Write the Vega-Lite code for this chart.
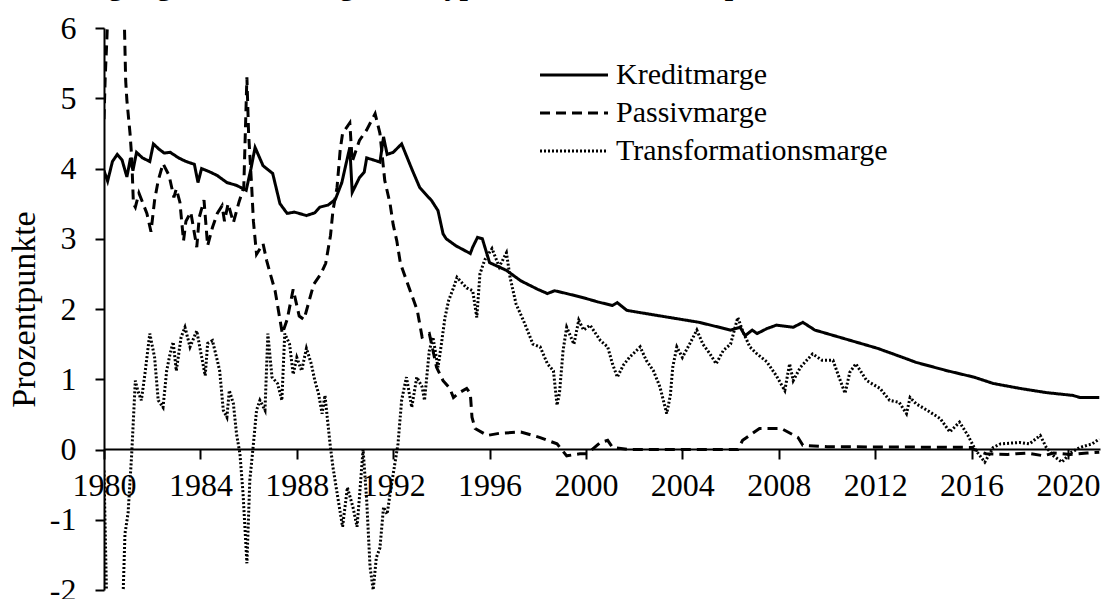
{
  "$schema": "https://vega.github.io/schema/vega-lite/v6.json",
  "width": 996,
  "height": 562,
  "autosize": {"type": "none"},
  "padding": {"left": 104, "top": 28, "right": 4, "bottom": 9},
  "background": "white",
  "title": {
    "text": "Zerlegung der Zinsmarge bei Hypotheken, in Prozentpunkten",
    "anchor": "start",
    "frame": "group",
    "offset": 11,
    "dx": -64,
    "font": "Liberation Serif",
    "fontSize": 30,
    "fontWeight": "bold",
    "color": "black"
  },
  "config": {
    "view": {"stroke": null},
    "axis": {
      "labelFont": "Liberation Serif",
      "titleFont": "Liberation Serif",
      "labelColor": "black",
      "titleColor": "black",
      "domainColor": "black",
      "tickColor": "black",
      "grid": false
    },
    "legend": {
      "labelFont": "Liberation Serif",
      "labelColor": "black"
    }
  },
  "data": {
    "values": [
      {"s": "Kreditmarge", "t": 1980.0, "v": 3.97},
      {"s": "Kreditmarge", "t": 1980.15, "v": 3.82},
      {"s": "Kreditmarge", "t": 1980.35, "v": 4.1},
      {"s": "Kreditmarge", "t": 1980.55, "v": 4.2},
      {"s": "Kreditmarge", "t": 1980.75, "v": 4.12},
      {"s": "Kreditmarge", "t": 1980.95, "v": 3.88},
      {"s": "Kreditmarge", "t": 1981.1, "v": 4.15},
      {"s": "Kreditmarge", "t": 1981.2, "v": 3.97},
      {"s": "Kreditmarge", "t": 1981.35, "v": 4.23},
      {"s": "Kreditmarge", "t": 1981.6, "v": 4.15},
      {"s": "Kreditmarge", "t": 1981.9, "v": 4.1},
      {"s": "Kreditmarge", "t": 1982.05, "v": 4.35},
      {"s": "Kreditmarge", "t": 1982.3, "v": 4.27},
      {"s": "Kreditmarge", "t": 1982.5, "v": 4.22},
      {"s": "Kreditmarge", "t": 1982.75, "v": 4.23},
      {"s": "Kreditmarge", "t": 1983.1, "v": 4.15},
      {"s": "Kreditmarge", "t": 1983.4, "v": 4.1},
      {"s": "Kreditmarge", "t": 1983.75, "v": 4.06},
      {"s": "Kreditmarge", "t": 1983.9, "v": 3.8},
      {"s": "Kreditmarge", "t": 1984.05, "v": 4.0},
      {"s": "Kreditmarge", "t": 1984.4, "v": 3.95},
      {"s": "Kreditmarge", "t": 1984.7, "v": 3.9},
      {"s": "Kreditmarge", "t": 1985.1, "v": 3.8},
      {"s": "Kreditmarge", "t": 1985.5, "v": 3.76},
      {"s": "Kreditmarge", "t": 1985.9, "v": 3.69},
      {"s": "Kreditmarge", "t": 1986.1, "v": 4.0},
      {"s": "Kreditmarge", "t": 1986.27, "v": 4.3},
      {"s": "Kreditmarge", "t": 1986.6, "v": 4.04},
      {"s": "Kreditmarge", "t": 1987.0, "v": 3.93},
      {"s": "Kreditmarge", "t": 1987.3, "v": 3.5},
      {"s": "Kreditmarge", "t": 1987.6, "v": 3.36},
      {"s": "Kreditmarge", "t": 1987.9, "v": 3.38},
      {"s": "Kreditmarge", "t": 1988.4, "v": 3.33},
      {"s": "Kreditmarge", "t": 1988.75, "v": 3.37},
      {"s": "Kreditmarge", "t": 1988.96, "v": 3.45},
      {"s": "Kreditmarge", "t": 1989.3, "v": 3.48},
      {"s": "Kreditmarge", "t": 1989.6, "v": 3.56},
      {"s": "Kreditmarge", "t": 1989.87, "v": 3.8},
      {"s": "Kreditmarge", "t": 1990.0, "v": 4.0},
      {"s": "Kreditmarge", "t": 1990.2, "v": 4.3},
      {"s": "Kreditmarge", "t": 1990.3, "v": 3.66},
      {"s": "Kreditmarge", "t": 1990.6, "v": 3.87},
      {"s": "Kreditmarge", "t": 1990.8, "v": 3.95},
      {"s": "Kreditmarge", "t": 1990.9, "v": 4.15},
      {"s": "Kreditmarge", "t": 1991.2, "v": 4.12},
      {"s": "Kreditmarge", "t": 1991.45, "v": 4.09},
      {"s": "Kreditmarge", "t": 1991.6, "v": 4.45},
      {"s": "Kreditmarge", "t": 1991.75, "v": 4.2},
      {"s": "Kreditmarge", "t": 1992.0, "v": 4.23},
      {"s": "Kreditmarge", "t": 1992.35, "v": 4.35},
      {"s": "Kreditmarge", "t": 1992.8, "v": 3.97},
      {"s": "Kreditmarge", "t": 1993.1, "v": 3.73},
      {"s": "Kreditmarge", "t": 1993.6, "v": 3.54},
      {"s": "Kreditmarge", "t": 1993.86, "v": 3.4},
      {"s": "Kreditmarge", "t": 1994.07, "v": 3.07},
      {"s": "Kreditmarge", "t": 1994.2, "v": 3.0},
      {"s": "Kreditmarge", "t": 1994.6, "v": 2.9},
      {"s": "Kreditmarge", "t": 1995.2, "v": 2.79},
      {"s": "Kreditmarge", "t": 1995.3, "v": 2.88},
      {"s": "Kreditmarge", "t": 1995.5, "v": 3.02},
      {"s": "Kreditmarge", "t": 1995.7, "v": 3.0},
      {"s": "Kreditmarge", "t": 1996.0, "v": 2.66},
      {"s": "Kreditmarge", "t": 1996.7, "v": 2.55},
      {"s": "Kreditmarge", "t": 1997.3, "v": 2.4},
      {"s": "Kreditmarge", "t": 1998.0, "v": 2.28},
      {"s": "Kreditmarge", "t": 1998.4, "v": 2.22},
      {"s": "Kreditmarge", "t": 1998.7, "v": 2.26},
      {"s": "Kreditmarge", "t": 1999.2, "v": 2.22},
      {"s": "Kreditmarge", "t": 2000.0, "v": 2.15},
      {"s": "Kreditmarge", "t": 2000.5, "v": 2.1},
      {"s": "Kreditmarge", "t": 2001.1, "v": 2.05},
      {"s": "Kreditmarge", "t": 2001.3, "v": 2.09},
      {"s": "Kreditmarge", "t": 2001.7, "v": 1.98},
      {"s": "Kreditmarge", "t": 2003.1, "v": 1.9},
      {"s": "Kreditmarge", "t": 2004.7, "v": 1.81},
      {"s": "Kreditmarge", "t": 2006.0, "v": 1.7},
      {"s": "Kreditmarge", "t": 2006.4, "v": 1.74},
      {"s": "Kreditmarge", "t": 2006.6, "v": 1.62},
      {"s": "Kreditmarge", "t": 2006.9, "v": 1.7},
      {"s": "Kreditmarge", "t": 2007.1, "v": 1.65},
      {"s": "Kreditmarge", "t": 2007.5, "v": 1.72},
      {"s": "Kreditmarge", "t": 2007.9, "v": 1.77},
      {"s": "Kreditmarge", "t": 2008.6, "v": 1.74},
      {"s": "Kreditmarge", "t": 2009.0, "v": 1.81},
      {"s": "Kreditmarge", "t": 2009.5, "v": 1.7},
      {"s": "Kreditmarge", "t": 2010.7, "v": 1.58},
      {"s": "Kreditmarge", "t": 2012.1, "v": 1.44},
      {"s": "Kreditmarge", "t": 2013.15, "v": 1.31},
      {"s": "Kreditmarge", "t": 2013.7, "v": 1.24},
      {"s": "Kreditmarge", "t": 2015.0, "v": 1.12},
      {"s": "Kreditmarge", "t": 2016.1, "v": 1.03},
      {"s": "Kreditmarge", "t": 2016.9, "v": 0.94},
      {"s": "Kreditmarge", "t": 2018.0, "v": 0.87},
      {"s": "Kreditmarge", "t": 2019.1, "v": 0.81},
      {"s": "Kreditmarge", "t": 2020.2, "v": 0.77},
      {"s": "Kreditmarge", "t": 2020.5, "v": 0.74},
      {"s": "Kreditmarge", "t": 2021.3, "v": 0.74},

      {"s": "Passivmarge", "t": 1980.0, "v": 4.7},
      {"s": "Passivmarge", "t": 1980.05, "v": 5.3},
      {"s": "Passivmarge", "t": 1980.12, "v": 5.85},
      {"s": "Passivmarge", "t": 1980.2, "v": 6.6},
      {"s": "Passivmarge", "t": 1980.5, "v": 6.8},
      {"s": "Passivmarge", "t": 1980.75, "v": 6.3},
      {"s": "Passivmarge", "t": 1980.85, "v": 6.0},
      {"s": "Passivmarge", "t": 1980.9, "v": 5.25},
      {"s": "Passivmarge", "t": 1980.95, "v": 4.97},
      {"s": "Passivmarge", "t": 1981.08, "v": 4.5},
      {"s": "Passivmarge", "t": 1981.15, "v": 4.16},
      {"s": "Passivmarge", "t": 1981.22, "v": 3.5},
      {"s": "Passivmarge", "t": 1981.3, "v": 3.45},
      {"s": "Passivmarge", "t": 1981.45, "v": 3.65},
      {"s": "Passivmarge", "t": 1981.78, "v": 3.36},
      {"s": "Passivmarge", "t": 1981.95, "v": 3.1},
      {"s": "Passivmarge", "t": 1982.1, "v": 3.55},
      {"s": "Passivmarge", "t": 1982.25, "v": 3.83},
      {"s": "Passivmarge", "t": 1982.45, "v": 4.07},
      {"s": "Passivmarge", "t": 1982.7, "v": 3.9},
      {"s": "Passivmarge", "t": 1982.9, "v": 3.59},
      {"s": "Passivmarge", "t": 1983.0, "v": 3.71},
      {"s": "Passivmarge", "t": 1983.15, "v": 3.52},
      {"s": "Passivmarge", "t": 1983.3, "v": 2.97},
      {"s": "Passivmarge", "t": 1983.4, "v": 3.25},
      {"s": "Passivmarge", "t": 1983.6, "v": 3.38},
      {"s": "Passivmarge", "t": 1983.85, "v": 2.88},
      {"s": "Passivmarge", "t": 1983.95, "v": 3.3},
      {"s": "Passivmarge", "t": 1984.15, "v": 3.55},
      {"s": "Passivmarge", "t": 1984.3, "v": 2.9},
      {"s": "Passivmarge", "t": 1984.5, "v": 3.16},
      {"s": "Passivmarge", "t": 1984.7, "v": 3.36},
      {"s": "Passivmarge", "t": 1984.9, "v": 3.47},
      {"s": "Passivmarge", "t": 1985.0, "v": 3.25},
      {"s": "Passivmarge", "t": 1985.15, "v": 3.5},
      {"s": "Passivmarge", "t": 1985.37, "v": 3.23},
      {"s": "Passivmarge", "t": 1985.6, "v": 3.52},
      {"s": "Passivmarge", "t": 1985.8, "v": 3.73},
      {"s": "Passivmarge", "t": 1985.93, "v": 5.3},
      {"s": "Passivmarge", "t": 1986.0, "v": 4.5},
      {"s": "Passivmarge", "t": 1986.13, "v": 3.73},
      {"s": "Passivmarge", "t": 1986.2, "v": 3.25},
      {"s": "Passivmarge", "t": 1986.33, "v": 2.78},
      {"s": "Passivmarge", "t": 1986.6, "v": 2.93},
      {"s": "Passivmarge", "t": 1986.75, "v": 2.69},
      {"s": "Passivmarge", "t": 1986.9, "v": 2.5},
      {"s": "Passivmarge", "t": 1987.1, "v": 2.26},
      {"s": "Passivmarge", "t": 1987.4, "v": 1.65},
      {"s": "Passivmarge", "t": 1987.6, "v": 1.85},
      {"s": "Passivmarge", "t": 1987.85, "v": 2.28},
      {"s": "Passivmarge", "t": 1988.1, "v": 1.9},
      {"s": "Passivmarge", "t": 1988.3, "v": 1.85},
      {"s": "Passivmarge", "t": 1988.5, "v": 2.1},
      {"s": "Passivmarge", "t": 1988.7, "v": 2.35},
      {"s": "Passivmarge", "t": 1989.0, "v": 2.5},
      {"s": "Passivmarge", "t": 1989.2, "v": 2.65},
      {"s": "Passivmarge", "t": 1989.4, "v": 3.05},
      {"s": "Passivmarge", "t": 1989.5, "v": 3.4},
      {"s": "Passivmarge", "t": 1989.67, "v": 3.73},
      {"s": "Passivmarge", "t": 1989.8, "v": 4.26},
      {"s": "Passivmarge", "t": 1989.9, "v": 4.5},
      {"s": "Passivmarge", "t": 1990.2, "v": 4.65},
      {"s": "Passivmarge", "t": 1990.3, "v": 4.1},
      {"s": "Passivmarge", "t": 1990.6, "v": 4.4},
      {"s": "Passivmarge", "t": 1990.9, "v": 4.55},
      {"s": "Passivmarge", "t": 1991.25, "v": 4.78},
      {"s": "Passivmarge", "t": 1991.45, "v": 4.5},
      {"s": "Passivmarge", "t": 1991.65, "v": 3.83},
      {"s": "Passivmarge", "t": 1991.87, "v": 3.5},
      {"s": "Passivmarge", "t": 1992.0, "v": 3.2},
      {"s": "Passivmarge", "t": 1992.15, "v": 2.97},
      {"s": "Passivmarge", "t": 1992.3, "v": 2.65},
      {"s": "Passivmarge", "t": 1992.6, "v": 2.36},
      {"s": "Passivmarge", "t": 1993.0, "v": 1.98},
      {"s": "Passivmarge", "t": 1993.2, "v": 1.6},
      {"s": "Passivmarge", "t": 1993.5, "v": 1.65},
      {"s": "Passivmarge", "t": 1993.65, "v": 1.41},
      {"s": "Passivmarge", "t": 1993.8, "v": 1.17},
      {"s": "Passivmarge", "t": 1994.07, "v": 0.98},
      {"s": "Passivmarge", "t": 1994.35, "v": 0.87},
      {"s": "Passivmarge", "t": 1994.5, "v": 0.74},
      {"s": "Passivmarge", "t": 1994.7, "v": 0.8},
      {"s": "Passivmarge", "t": 1995.05, "v": 0.87},
      {"s": "Passivmarge", "t": 1995.2, "v": 0.8},
      {"s": "Passivmarge", "t": 1995.27, "v": 0.46},
      {"s": "Passivmarge", "t": 1995.4, "v": 0.3},
      {"s": "Passivmarge", "t": 1995.9, "v": 0.2},
      {"s": "Passivmarge", "t": 1996.4, "v": 0.23},
      {"s": "Passivmarge", "t": 1997.3, "v": 0.25},
      {"s": "Passivmarge", "t": 1998.1, "v": 0.17},
      {"s": "Passivmarge", "t": 1998.8, "v": 0.08},
      {"s": "Passivmarge", "t": 1999.2, "v": -0.09},
      {"s": "Passivmarge", "t": 1999.75, "v": -0.06},
      {"s": "Passivmarge", "t": 2000.05, "v": -0.06},
      {"s": "Passivmarge", "t": 2000.6, "v": 0.1},
      {"s": "Passivmarge", "t": 2000.9, "v": 0.13},
      {"s": "Passivmarge", "t": 2001.1, "v": 0.03},
      {"s": "Passivmarge", "t": 2001.8, "v": 0.0},
      {"s": "Passivmarge", "t": 2006.3, "v": 0.0},
      {"s": "Passivmarge", "t": 2006.5, "v": 0.13},
      {"s": "Passivmarge", "t": 2007.2, "v": 0.3},
      {"s": "Passivmarge", "t": 2008.1, "v": 0.3},
      {"s": "Passivmarge", "t": 2008.8, "v": 0.17},
      {"s": "Passivmarge", "t": 2009.0, "v": 0.06},
      {"s": "Passivmarge", "t": 2010.0, "v": 0.04},
      {"s": "Passivmarge", "t": 2016.0, "v": 0.03},
      {"s": "Passivmarge", "t": 2016.1, "v": 0.0},
      {"s": "Passivmarge", "t": 2016.6, "v": -0.06},
      {"s": "Passivmarge", "t": 2017.5, "v": -0.07},
      {"s": "Passivmarge", "t": 2018.3, "v": -0.05},
      {"s": "Passivmarge", "t": 2019.0, "v": -0.09},
      {"s": "Passivmarge", "t": 2019.4, "v": -0.05},
      {"s": "Passivmarge", "t": 2020.1, "v": -0.07},
      {"s": "Passivmarge", "t": 2020.8, "v": -0.05},
      {"s": "Passivmarge", "t": 2021.3, "v": -0.04},

      {"s": "Transformationsmarge", "t": 1980.0, "v": -0.3},
      {"s": "Transformationsmarge", "t": 1980.1, "v": -2.0},
      {"s": "Transformationsmarge", "t": 1980.2, "v": -2.6},
      {"s": "Transformationsmarge", "t": 1980.6, "v": -2.7},
      {"s": "Transformationsmarge", "t": 1980.8, "v": -1.98},
      {"s": "Transformationsmarge", "t": 1980.87, "v": -1.2},
      {"s": "Transformationsmarge", "t": 1981.0, "v": -0.9},
      {"s": "Transformationsmarge", "t": 1981.15, "v": -0.06},
      {"s": "Transformationsmarge", "t": 1981.3, "v": 0.98},
      {"s": "Transformationsmarge", "t": 1981.4, "v": 0.84},
      {"s": "Transformationsmarge", "t": 1981.55, "v": 0.7},
      {"s": "Transformationsmarge", "t": 1981.7, "v": 1.08},
      {"s": "Transformationsmarge", "t": 1981.9, "v": 1.65},
      {"s": "Transformationsmarge", "t": 1982.1, "v": 1.31},
      {"s": "Transformationsmarge", "t": 1982.25, "v": 0.7},
      {"s": "Transformationsmarge", "t": 1982.45, "v": 0.6},
      {"s": "Transformationsmarge", "t": 1982.6, "v": 1.12},
      {"s": "Transformationsmarge", "t": 1982.74, "v": 1.36},
      {"s": "Transformationsmarge", "t": 1982.87, "v": 1.53},
      {"s": "Transformationsmarge", "t": 1983.0, "v": 1.12},
      {"s": "Transformationsmarge", "t": 1983.2, "v": 1.6},
      {"s": "Transformationsmarge", "t": 1983.36, "v": 1.74},
      {"s": "Transformationsmarge", "t": 1983.57, "v": 1.46},
      {"s": "Transformationsmarge", "t": 1983.85, "v": 1.69},
      {"s": "Transformationsmarge", "t": 1984.0, "v": 1.41},
      {"s": "Transformationsmarge", "t": 1984.2, "v": 1.05},
      {"s": "Transformationsmarge", "t": 1984.3, "v": 1.51},
      {"s": "Transformationsmarge", "t": 1984.5, "v": 1.55},
      {"s": "Transformationsmarge", "t": 1984.7, "v": 1.27},
      {"s": "Transformationsmarge", "t": 1984.8, "v": 1.12},
      {"s": "Transformationsmarge", "t": 1984.95, "v": 0.56},
      {"s": "Transformationsmarge", "t": 1985.1, "v": 0.46},
      {"s": "Transformationsmarge", "t": 1985.2, "v": 0.84},
      {"s": "Transformationsmarge", "t": 1985.37, "v": 0.65},
      {"s": "Transformationsmarge", "t": 1985.5, "v": 0.22},
      {"s": "Transformationsmarge", "t": 1985.64, "v": -0.06},
      {"s": "Transformationsmarge", "t": 1985.77, "v": -0.63},
      {"s": "Transformationsmarge", "t": 1985.93, "v": -1.62},
      {"s": "Transformationsmarge", "t": 1986.05, "v": -0.44},
      {"s": "Transformationsmarge", "t": 1986.2, "v": 0.08},
      {"s": "Transformationsmarge", "t": 1986.33, "v": 0.56},
      {"s": "Transformationsmarge", "t": 1986.47, "v": 0.7},
      {"s": "Transformationsmarge", "t": 1986.68, "v": 0.56},
      {"s": "Transformationsmarge", "t": 1986.8, "v": 1.65},
      {"s": "Transformationsmarge", "t": 1986.97, "v": 1.03},
      {"s": "Transformationsmarge", "t": 1987.2, "v": 0.94},
      {"s": "Transformationsmarge", "t": 1987.38, "v": 0.7},
      {"s": "Transformationsmarge", "t": 1987.5, "v": 1.65},
      {"s": "Transformationsmarge", "t": 1987.7, "v": 1.5},
      {"s": "Transformationsmarge", "t": 1987.85, "v": 1.07},
      {"s": "Transformationsmarge", "t": 1988.0, "v": 1.31},
      {"s": "Transformationsmarge", "t": 1988.2, "v": 1.12},
      {"s": "Transformationsmarge", "t": 1988.4, "v": 1.44},
      {"s": "Transformationsmarge", "t": 1988.6, "v": 1.22},
      {"s": "Transformationsmarge", "t": 1988.75, "v": 0.98},
      {"s": "Transformationsmarge", "t": 1988.9, "v": 0.8},
      {"s": "Transformationsmarge", "t": 1989.05, "v": 0.51},
      {"s": "Transformationsmarge", "t": 1989.17, "v": 0.77},
      {"s": "Transformationsmarge", "t": 1989.38, "v": 0.08},
      {"s": "Transformationsmarge", "t": 1989.5, "v": -0.25},
      {"s": "Transformationsmarge", "t": 1989.7, "v": -0.68},
      {"s": "Transformationsmarge", "t": 1989.9, "v": -1.1},
      {"s": "Transformationsmarge", "t": 1990.1, "v": -0.54},
      {"s": "Transformationsmarge", "t": 1990.33, "v": -0.82},
      {"s": "Transformationsmarge", "t": 1990.5, "v": -1.1},
      {"s": "Transformationsmarge", "t": 1990.6, "v": -0.68},
      {"s": "Transformationsmarge", "t": 1990.75, "v": 0.0},
      {"s": "Transformationsmarge", "t": 1990.9, "v": -0.72},
      {"s": "Transformationsmarge", "t": 1991.04, "v": -1.67},
      {"s": "Transformationsmarge", "t": 1991.17, "v": -2.0},
      {"s": "Transformationsmarge", "t": 1991.3, "v": -1.54},
      {"s": "Transformationsmarge", "t": 1991.45, "v": -1.4},
      {"s": "Transformationsmarge", "t": 1991.6, "v": -0.82},
      {"s": "Transformationsmarge", "t": 1991.75, "v": -0.92},
      {"s": "Transformationsmarge", "t": 1991.87, "v": -0.63},
      {"s": "Transformationsmarge", "t": 1992.07, "v": -0.2},
      {"s": "Transformationsmarge", "t": 1992.2, "v": 0.08},
      {"s": "Transformationsmarge", "t": 1992.35, "v": 0.7},
      {"s": "Transformationsmarge", "t": 1992.55, "v": 1.03},
      {"s": "Transformationsmarge", "t": 1992.77, "v": 0.6},
      {"s": "Transformationsmarge", "t": 1992.98, "v": 1.03},
      {"s": "Transformationsmarge", "t": 1993.2, "v": 0.89},
      {"s": "Transformationsmarge", "t": 1993.3, "v": 0.7},
      {"s": "Transformationsmarge", "t": 1993.5, "v": 1.41},
      {"s": "Transformationsmarge", "t": 1993.65, "v": 1.6},
      {"s": "Transformationsmarge", "t": 1993.86, "v": 1.17},
      {"s": "Transformationsmarge", "t": 1994.0, "v": 1.5},
      {"s": "Transformationsmarge", "t": 1994.15, "v": 1.88},
      {"s": "Transformationsmarge", "t": 1994.3, "v": 2.12},
      {"s": "Transformationsmarge", "t": 1994.5, "v": 2.3},
      {"s": "Transformationsmarge", "t": 1994.65, "v": 2.45},
      {"s": "Transformationsmarge", "t": 1995.05, "v": 2.3},
      {"s": "Transformationsmarge", "t": 1995.3, "v": 2.26},
      {"s": "Transformationsmarge", "t": 1995.47, "v": 1.88},
      {"s": "Transformationsmarge", "t": 1995.6, "v": 2.5},
      {"s": "Transformationsmarge", "t": 1995.8, "v": 2.7},
      {"s": "Transformationsmarge", "t": 1996.1, "v": 2.86},
      {"s": "Transformationsmarge", "t": 1996.4, "v": 2.6},
      {"s": "Transformationsmarge", "t": 1996.7, "v": 2.8},
      {"s": "Transformationsmarge", "t": 1996.85, "v": 2.45},
      {"s": "Transformationsmarge", "t": 1997.1, "v": 2.07},
      {"s": "Transformationsmarge", "t": 1997.4, "v": 1.84},
      {"s": "Transformationsmarge", "t": 1997.8, "v": 1.5},
      {"s": "Transformationsmarge", "t": 1998.1, "v": 1.46},
      {"s": "Transformationsmarge", "t": 1998.4, "v": 1.22},
      {"s": "Transformationsmarge", "t": 1998.65, "v": 1.12},
      {"s": "Transformationsmarge", "t": 1998.8, "v": 0.63},
      {"s": "Transformationsmarge", "t": 1998.9, "v": 0.8},
      {"s": "Transformationsmarge", "t": 1999.05, "v": 1.41},
      {"s": "Transformationsmarge", "t": 1999.2, "v": 1.74},
      {"s": "Transformationsmarge", "t": 1999.5, "v": 1.5},
      {"s": "Transformationsmarge", "t": 1999.7, "v": 1.84},
      {"s": "Transformationsmarge", "t": 1999.9, "v": 1.7},
      {"s": "Transformationsmarge", "t": 2000.17, "v": 1.77},
      {"s": "Transformationsmarge", "t": 2000.6, "v": 1.55},
      {"s": "Transformationsmarge", "t": 2000.9, "v": 1.46},
      {"s": "Transformationsmarge", "t": 2001.1, "v": 1.22},
      {"s": "Transformationsmarge", "t": 2001.3, "v": 1.03},
      {"s": "Transformationsmarge", "t": 2001.55, "v": 1.2},
      {"s": "Transformationsmarge", "t": 2001.8, "v": 1.31},
      {"s": "Transformationsmarge", "t": 2002.25, "v": 1.46},
      {"s": "Transformationsmarge", "t": 2002.5, "v": 1.27},
      {"s": "Transformationsmarge", "t": 2002.8, "v": 1.12},
      {"s": "Transformationsmarge", "t": 2003.07, "v": 0.89},
      {"s": "Transformationsmarge", "t": 2003.35, "v": 0.51},
      {"s": "Transformationsmarge", "t": 2003.5, "v": 0.77},
      {"s": "Transformationsmarge", "t": 2003.6, "v": 1.17},
      {"s": "Transformationsmarge", "t": 2003.77, "v": 1.46},
      {"s": "Transformationsmarge", "t": 2004.0, "v": 1.31},
      {"s": "Transformationsmarge", "t": 2004.3, "v": 1.5},
      {"s": "Transformationsmarge", "t": 2004.6, "v": 1.7},
      {"s": "Transformationsmarge", "t": 2004.85, "v": 1.5},
      {"s": "Transformationsmarge", "t": 2005.15, "v": 1.36},
      {"s": "Transformationsmarge", "t": 2005.4, "v": 1.22},
      {"s": "Transformationsmarge", "t": 2005.7, "v": 1.41},
      {"s": "Transformationsmarge", "t": 2006.0, "v": 1.5},
      {"s": "Transformationsmarge", "t": 2006.3, "v": 1.88},
      {"s": "Transformationsmarge", "t": 2006.5, "v": 1.69},
      {"s": "Transformationsmarge", "t": 2006.8, "v": 1.46},
      {"s": "Transformationsmarge", "t": 2007.1, "v": 1.36},
      {"s": "Transformationsmarge", "t": 2007.5, "v": 1.25},
      {"s": "Transformationsmarge", "t": 2007.9, "v": 1.05},
      {"s": "Transformationsmarge", "t": 2008.25, "v": 0.84},
      {"s": "Transformationsmarge", "t": 2008.45, "v": 1.22},
      {"s": "Transformationsmarge", "t": 2008.6, "v": 0.98},
      {"s": "Transformationsmarge", "t": 2008.9, "v": 1.17},
      {"s": "Transformationsmarge", "t": 2009.4, "v": 1.36},
      {"s": "Transformationsmarge", "t": 2009.8, "v": 1.27},
      {"s": "Transformationsmarge", "t": 2010.25, "v": 1.27},
      {"s": "Transformationsmarge", "t": 2010.5, "v": 1.03},
      {"s": "Transformationsmarge", "t": 2010.75, "v": 0.8},
      {"s": "Transformationsmarge", "t": 2010.95, "v": 1.1},
      {"s": "Transformationsmarge", "t": 2011.2, "v": 1.22},
      {"s": "Transformationsmarge", "t": 2011.65, "v": 0.98},
      {"s": "Transformationsmarge", "t": 2012.2, "v": 0.87},
      {"s": "Transformationsmarge", "t": 2012.6, "v": 0.7},
      {"s": "Transformationsmarge", "t": 2013.0, "v": 0.67},
      {"s": "Transformationsmarge", "t": 2013.3, "v": 0.51},
      {"s": "Transformationsmarge", "t": 2013.45, "v": 0.74},
      {"s": "Transformationsmarge", "t": 2013.7, "v": 0.65},
      {"s": "Transformationsmarge", "t": 2014.15, "v": 0.56},
      {"s": "Transformationsmarge", "t": 2014.7, "v": 0.44},
      {"s": "Transformationsmarge", "t": 2015.1, "v": 0.25},
      {"s": "Transformationsmarge", "t": 2015.5, "v": 0.39},
      {"s": "Transformationsmarge", "t": 2015.85, "v": 0.2},
      {"s": "Transformationsmarge", "t": 2016.15, "v": 0.0},
      {"s": "Transformationsmarge", "t": 2016.55, "v": -0.18},
      {"s": "Transformationsmarge", "t": 2016.9, "v": 0.03},
      {"s": "Transformationsmarge", "t": 2017.2, "v": 0.08},
      {"s": "Transformationsmarge", "t": 2018.0, "v": 0.1},
      {"s": "Transformationsmarge", "t": 2018.4, "v": 0.08},
      {"s": "Transformationsmarge", "t": 2018.85, "v": 0.2},
      {"s": "Transformationsmarge", "t": 2019.1, "v": 0.03},
      {"s": "Transformationsmarge", "t": 2019.4, "v": -0.09},
      {"s": "Transformationsmarge", "t": 2019.75, "v": -0.18},
      {"s": "Transformationsmarge", "t": 2020.1, "v": -0.05},
      {"s": "Transformationsmarge", "t": 2020.5, "v": 0.03},
      {"s": "Transformationsmarge", "t": 2021.0, "v": 0.08},
      {"s": "Transformationsmarge", "t": 2021.3, "v": 0.15}
    ]
  },
  "mark": {"type": "line", "clip": true, "color": "black", "strokeCap": "butt", "strokeJoin": "miter"},
  "encoding": {
    "x": {
      "field": "t",
      "type": "quantitative",
      "scale": {"domain": [1980, 2021.33], "nice": false, "zero": false},
      "axis": {
        "title": null,
        "values": [1980, 1984, 1988, 1992, 1996, 2000, 2004, 2008, 2012, 2016, 2020],
        "format": "d",
        "offset": -141,
        "tickSize": 10,
        "tickWidth": 2,
        "domainWidth": 2,
        "labelFontSize": 32,
        "labelPadding": 11,
        "labelFlush": false,
        "labelOverlap": false
      }
    },
    "y": {
      "field": "v",
      "type": "quantitative",
      "scale": {"domain": [-2, 6], "nice": false, "zero": false},
      "axis": {
        "title": "Prozentpunkte",
        "titleFontSize": 34,
        "titleFontWeight": "normal",
        "titlePadding": 8,
        "values": [-2, -1, 0, 1, 2, 3, 4, 5, 6],
        "labelExpr": "replace(datum.label, '\u2212', '-')",
        "tickSize": 9,
        "tickWidth": 2,
        "domainWidth": 2,
        "labelFontSize": 32,
        "labelPadding": 19,
        "labelFlush": false,
        "labelOverlap": false
      }
    },
    "strokeDash": {
      "field": "s",
      "type": "nominal",
      "scale": {
        "domain": ["Kreditmarge", "Passivmarge", "Transformationsmarge"],
        "range": [[1, 0], [10, 6], [2, 2]]
      },
      "legend": {
        "title": null,
        "orient": "none",
        "legendX": 455,
        "legendY": 32,
        "padding": 0,
        "symbolType": "M-4,0H4",
        "symbolSize": 289,
        "symbolStrokeColor": "black",
        "labelFontSize": 30,
        "labelOffset": 27,
        "labelLimit": 0,
        "rowPadding": 8
      }
    },
    "strokeWidth": {
      "field": "s",
      "type": "nominal",
      "scale": {
        "domain": ["Kreditmarge", "Passivmarge", "Transformationsmarge"],
        "range": [3, 3, 1.5]
      },
      "legend": {
        "title": null,
        "orient": "none",
        "legendX": 455,
        "legendY": 32,
        "padding": 0,
        "symbolType": "M-4,0H4",
        "symbolSize": 289,
        "symbolStrokeColor": "black",
        "labelFontSize": 30,
        "labelOffset": 27,
        "labelLimit": 0,
        "rowPadding": 8
      }
    }
  }
}
